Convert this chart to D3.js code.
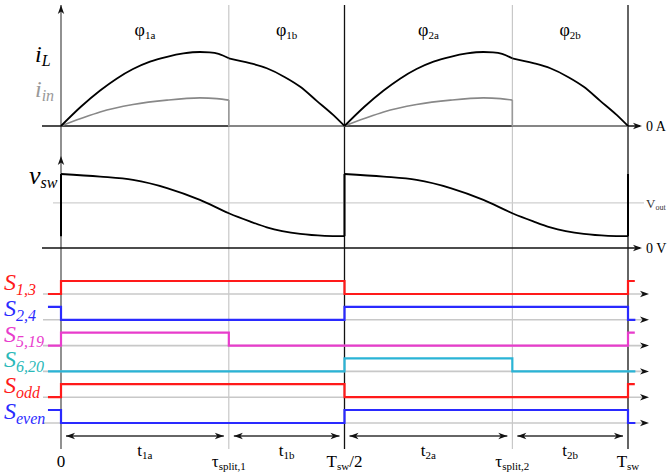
<!DOCTYPE html>
<html>
<head>
<meta charset="utf-8">
<script src="https://cdn.jsdelivr.net/npm/d3@7"></script>
<style>
body{margin:0;background:#fff;}
svg{display:block;}
</style>
</head>
<body>
<div id="chart"></div>
<script>
// time is in fractions of Tsw
let tMarks = [0, 0.296, 0.5, 0.796, 1];
let tMarkKinds = ["axis", "split", "half", "split", "end"];
let tMarkLabels = [["0", ""], ["τ", "split,1"], ["T", "sw", "/2"], ["τ", "split,2"], ["T", "sw"]];
let phaseNames = ["1a", "1b", "2a", "2b"];

// inductor current (normalised to peak), one array per phase
let iL1a = [[0,0],[0.035,0.26],[0.069,0.48],[0.098,0.64],[0.127,0.77],[0.157,0.87],[0.187,0.935],[0.216,0.98],[0.245,1.0],[0.262,0.995],[0.278,0.975],[0.296,0.915]];
let iL1b = [[0.296,0.915],[0.333,0.85],[0.363,0.78],[0.395,0.66],[0.422,0.53],[0.451,0.34],[0.480,0.15],[0.5,0]];
let iL2a = [[0.5,0],[0.535,0.26],[0.569,0.48],[0.598,0.64],[0.627,0.77],[0.657,0.87],[0.687,0.935],[0.716,0.98],[0.745,1.0],[0.762,0.995],[0.778,0.975],[0.796,0.915]];
let iL2b = [[0.796,0.915],[0.833,0.85],[0.863,0.78],[0.895,0.66],[0.922,0.53],[0.951,0.34],[0.980,0.15],[1,0]];
// input current
let iIn1 = [[0,0],[0.035,0.1],[0.069,0.19],[0.127,0.29],[0.187,0.35],[0.245,0.38],[0.275,0.37],[0.296,0.35]];
let iIn2 = [[0.5,0],[0.535,0.1],[0.569,0.19],[0.627,0.29],[0.687,0.35],[0.745,0.38],[0.775,0.37],[0.796,0.35]];
// switch node voltage (normalised)
let vsw1 = [[0,1.0],[0.069,0.965],[0.127,0.92],[0.187,0.81],[0.245,0.65],[0.296,0.47],[0.333,0.36],[0.363,0.28],[0.422,0.19],[0.465,0.165],[0.5,0.16]];
let vsw2 = [[0.5,1.0],[0.569,0.965],[0.627,0.92],[0.687,0.81],[0.745,0.65],[0.796,0.47],[0.833,0.36],[0.863,0.28],[0.922,0.19],[0.965,0.165],[1,0.16]];
let vOut = 0.61;

let switchNames = ["1,3", "2,4", "5,19", "6,20", "odd", "even"];
let switchColors = ["#ff1a1a", "#2a2aff", "#e83ccc", "#2ab4d6", "#ff1a1a", "#2a2aff"];
let switchLabelColors = ["#ff1a1a", "#2a2aff", "#e83ccc", "#2ab8b8", "#ff1a1a", "#2a2aff"];
// [time, level] pairs, level held until next time
let switchStates = [
  [[-0.023,0],[0,1],[0.5,0],[1,1],[1.012,1]],
  [[-0.023,1],[0,0],[0.5,1],[1,0],[1.013,0]],
  [[-0.023,0],[0,1],[0.296,0],[1,1],[1.012,1]],
  [[-0.023,0],[0.5,1],[0.796,0],[1.013,0]],
  [[-0.023,0],[0,1],[0.5,0],[1,1],[1.012,1]],
  [[-0.023,1],[0,0],[0.5,1],[1,0],[1.013,0]]
];

let W = 671, H = 473;
let serif = "'Liberation Serif', 'Times New Roman', 'DejaVu Serif', serif";
let svg = d3.select("#chart").append("svg").attr("width", W).attr("height", H);

let x = d3.scaleLinear().domain([0, 1]).range([61, 628]);
let yI = d3.scaleLinear().domain([0, 1]).range([126, 52]);
let yV = d3.scaleLinear().domain([0, 1]).range([248, 174]);
let row = d3.scalePoint().domain(switchNames).range([294, 423]);
let levelH = 13;

function arrowHead(px, py, dir){
  let a = {right:0, left:180, up:-90, down:90}[dir];
  svg.append("path")
    .attr("d", "M0,0 L-9,-3.2 L-6.5,0 L-9,3.2 Z")
    .attr("transform", "translate(" + px + "," + py + ") rotate(" + a + ")")
    .attr("fill", "#111");
}
function label(px, py, size){
  return svg.append("text").attr("x", px).attr("y", py)
    .style("font-family", serif).attr("font-size", size);
}

// vertical time markers
tMarks.forEach(function(t, i){
  let k = tMarkKinds[i];
  svg.append("line")
    .attr("x1", x(t)).attr("x2", x(t))
    .attr("y1", 5).attr("y2", 449)
    .attr("stroke", k == "split" ? "#bdbdbd" : (k == "axis" ? "#555" : "#111"))
    .attr("stroke-width", k == "split" ? 1 : 1.3);
});
arrowHead(x(0), 5, "up");
arrowHead(x(0), 156, "up");

// current panel
svg.append("line").attr("x1", 42).attr("x2", 640).attr("y1", yI(0)).attr("y2", yI(0))
  .attr("stroke", "#111").attr("stroke-width", 1.5);
arrowHead(642, yI(0), "right");

let lineI = d3.line().x(d => x(d[0])).y(d => yI(d[1])).curve(d3.curveMonotoneX);
let lineIstraight = d3.line().x(d => x(d[0])).y(d => yI(d[1]));

[iIn1, iIn2].forEach(function(s, i){
  let last = s[s.length-1];
  let end = i == 0 ? tMarks[2] : tMarks[4];
  svg.append("path").attr("d", lineI(s)).attr("fill", "none").attr("stroke", "#888").attr("stroke-width", 1.6);
  svg.append("path").attr("d", lineIstraight([last, [last[0], 0], [end, 0]]))
    .attr("fill", "none").attr("stroke", "#999").attr("stroke-width", 1.6);
});
[iL1a, iL1b, iL2a, iL2b].forEach(function(s){
  svg.append("path").attr("d", lineI(s)).attr("fill", "none").attr("stroke", "#000").attr("stroke-width", 1.8);
});

// voltage panel
svg.append("line").attr("x1", 53).attr("x2", 644).attr("y1", yV(vOut)).attr("y2", yV(vOut))
  .attr("stroke", "#cfcfcf").attr("stroke-width", 1.4);
svg.append("line").attr("x1", 42).attr("x2", 640).attr("y1", yV(0)).attr("y2", yV(0))
  .attr("stroke", "#111").attr("stroke-width", 1.5);
arrowHead(642, yV(0), "right");

let lineV = d3.line().x(d => x(d[0])).y(d => yV(d[1])).curve(d3.curveMonotoneX);
let lineVstraight = d3.line().x(d => x(d[0])).y(d => yV(d[1]));
[vsw1, vsw2].forEach(function(s){
  svg.append("path").attr("d", lineV(s)).attr("fill", "none").attr("stroke", "#000").attr("stroke-width", 1.8);
});
let vLow = vsw1[vsw1.length-1][1], vHigh = vsw1[0][1];
[0, 0.5, 1].forEach(function(t){
  svg.append("path").attr("d", lineVstraight([[t, vLow], [t, vHigh]]))
    .attr("fill", "none").attr("stroke", "#000").attr("stroke-width", 2);
});

// switching signals
let stepLine = d3.line().curve(d3.curveStepAfter);
switchNames.forEach(function(name, i){
  let base = row(name);
  svg.append("line").attr("x1", 43).attr("x2", 646).attr("y1", base).attr("y2", base)
    .attr("stroke", "#c8c8c8").attr("stroke-width", 1.6);
  arrowHead(649, base, "right");
  svg.append("path")
    .attr("d", stepLine(switchStates[i].map(d => [x(d[0]), base - d[1]*levelH])))
    .attr("fill", "none").attr("stroke", switchColors[i]).attr("stroke-width", 2.2);
  let lab = label(4, base - 4, 24).attr("fill", switchLabelColors[i]).attr("font-style", "italic");
  lab.append("tspan").text("S");
  lab.append("tspan").attr("font-size", 16).attr("dy", 5).text(name);
});

// interval arrows and phase names
for (let i = 0; i < tMarks.length-1; i++){
  let x1 = x(tMarks[i]) + 5, x2 = x(tMarks[i+1]) - 5, yy = 436;
  svg.append("line").attr("x1", x1).attr("x2", x2).attr("y1", yy).attr("y2", yy)
    .attr("stroke", "#333").attr("stroke-width", 1.3);
  arrowHead(x1, yy, "left");
  arrowHead(x2, yy, "right");
  let mid = (x(tMarks[i]) + x(tMarks[i+1]))/2;
  let t = label(mid, 456, 17).attr("text-anchor", "middle");
  t.append("tspan").text("t");
  t.append("tspan").attr("font-size", 11).attr("dy", 3).text(phaseNames[i]);
  let p = label(mid, 36, 18).attr("text-anchor", "middle");
  p.append("tspan").text("φ");
  p.append("tspan").attr("font-size", 11).attr("dy", 3).text(phaseNames[i]);
}

// time labels
tMarks.forEach(function(t, i){
  let l = tMarkLabels[i];
  let tx = label(x(t), 467, 17).attr("text-anchor", "middle");
  tx.append("tspan").text(l[0]);
  if (l[1]) tx.append("tspan").attr("font-size", 11).attr("dy", 3).text(l[1]);
  if (l[2]) tx.append("tspan").attr("dy", -3).text(l[2]);
});

// axis labels
let lIL = label(35, 62, 24).attr("font-style", "italic");
lIL.append("tspan").text("i");
lIL.append("tspan").attr("font-size", 16).attr("dy", 4).text("L");
let lIin = label(35, 97, 24).attr("font-style", "italic").attr("fill", "#999");
lIin.append("tspan").text("i");
lIin.append("tspan").attr("font-size", 16).attr("dy", 4).text("in");
let lV = label(29, 184, 26).attr("font-style", "italic");
lV.append("tspan").text("v");
lV.append("tspan").attr("font-size", 16).attr("dy", 4).text("sw");

label(646, 131, 14).text("0 A");
let vo = label(646, 208, 13).attr("fill", "#333");
vo.append("tspan").text("V");
vo.append("tspan").attr("font-size", 8).attr("dy", 2).text("out");
label(646, 253, 14).text("0 V");
</script>
</body>
</html>
